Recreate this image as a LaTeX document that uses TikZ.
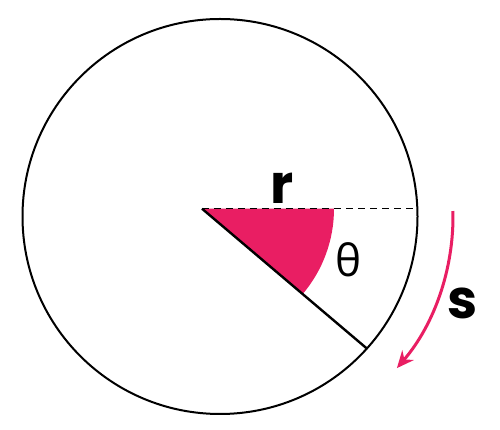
\documentclass[tikz,border=0pt]{standalone}
\usepackage{fontspec}
\setmainfont{Poppins}
\newfontfamily\thetafont{Open Sans}
\usepackage{xcolor}
\usepackage{tikz}
\usetikzlibrary{calc}
\usetikzlibrary{arrows.meta}
\definecolor{sectorpink}{HTML}{E91E63}
\tikzstyle{rim} = [draw, line width=2pt]
\tikzstyle{spoke} = [draw, line width=2.4pt]
\tikzstyle{refline} = [draw, line width=1.2pt, dash pattern=on 7pt off 5pt]
\tikzstyle{arcline} = [draw=sectorpink, line width=3pt, -{Stealth[length=17pt,width=15pt]}]
\tikzstyle{bigletter} = [inner sep=0pt, font=\fontsize{54}{54}\selectfont\bfseries]

\begin{document}
\begin{tikzpicture}[x=1pt,y=1pt]
\useasboundingbox (0,0) rectangle (500,430);

\coordinate (mid) at (220,213.5);
\coordinate (apex) at (202,221.3);
\coordinate (edge) at (416.7,221.3);
\coordinate (rimpt) at ($(apex) + (-40.3:216pt)$);

\fill [sectorpink] (apex) -- ++(0:132pt) arc [start angle=0, end angle=-40.3, radius=132pt] -- cycle;
\path [rim] (mid) circle [radius=197.5pt];
\path [refline] (apex) -- (edge);
\path [spoke] (apex) -- (rimpt);
\path [arcline] ($(mid) + (1.35:233pt)$) arc [start angle=1.35, end angle=-40.6, radius=233pt];

\node [bigletter] (rlabel) at (282,242) {r};
\node [inner sep=0pt, font=\thetafont\fontsize{44}{44}\selectfont] (theta) at (349,170) {θ};
\node [bigletter] (slabel) at (463,127) {s};

\end{tikzpicture}
\end{document}
